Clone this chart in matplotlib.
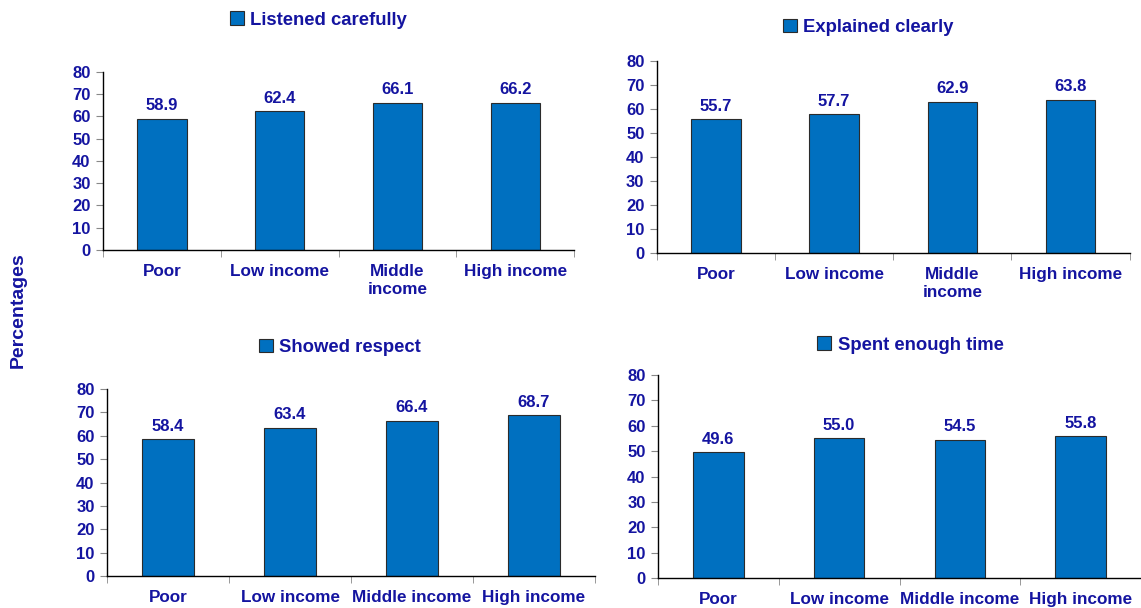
import matplotlib.pyplot as plt

# Categories and values for each panel
cats_wrap = ['Poor', 'Low income', 'Middle\nincome', 'High income']
cats_flat = ['Poor', 'Low income', 'Middle income', 'High income']

listened = [58.9, 62.4, 66.1, 66.2]
explained = [55.7, 57.7, 62.9, 63.8]
respect = [58.4, 63.4, 66.4, 68.7]
enough_time = [49.6, 55.0, 54.5, 55.8]

y_ticks = [0, 10, 20, 30, 40, 50, 60, 70, 80]

navy = '#1414A0'
blue = '#0070C0'

plt.rcParams['font.family'] = ['Liberation Sans', 'DejaVu Sans']
plt.rcParams['font.weight'] = 'bold'

fig = plt.figure(figsize=(11.41, 6.08), dpi=100)

# (values, labels, title, axes rect, legend centre)
panels = [
    (listened, cats_wrap, 'Listened carefully',
     [0.0903, 0.589, 0.413, 0.2926], (0.279, 0.967)),
    (explained, cats_wrap, 'Explained clearly',
     [0.5758, 0.584, 0.4142, 0.3157], (0.761, 0.955)),
    (respect, cats_flat, 'Showed respect',
     [0.0938, 0.0526, 0.4277, 0.3076], (0.298, 0.429)),
    (enough_time, cats_flat, 'Spent enough time',
     [0.5767, 0.0493, 0.4233, 0.3339], (0.798, 0.4326)),
]

for vals, labels, title, rect, leg_xy in panels:
    ax = fig.add_axes(rect)
    x = range(len(vals))
    bars = ax.bar(x, vals, width=0.42, color=blue, edgecolor='#2b2b2b',
                  linewidth=0.8, label=title)
    ax.bar_label(bars, labels=[f'{v:.1f}' for v in vals], padding=4,
                 color=navy, fontsize=12, fontweight='bold')

    ax.set_xlim(-0.5, len(vals) - 0.5)
    ax.set_ylim(0, 80)
    ax.set_yticks(y_ticks)
    ax.set_xticks(list(x))
    ax.set_xticklabels(labels)
    ax.set_xticks([i + 0.5 for i in range(-1, len(vals))], minor=True)

    ax.tick_params(axis='x', which='major', length=0, pad=10,
                   labelcolor=navy, labelsize=12.3)
    ax.tick_params(axis='x', which='minor', length=5, color='#888888',
                   direction='out')
    ax.tick_params(axis='y', length=5, color='#888888', labelcolor=navy,
                   labelsize=12, pad=4)
    for lab in ax.get_xticklabels() + ax.get_yticklabels():
        lab.set_fontweight('bold')
        lab.set_linespacing(1.25)

    ax.spines['top'].set_visible(False)
    ax.spines['right'].set_visible(False)
    ax.spines['left'].set_linewidth(1.0)
    ax.spines['bottom'].set_linewidth(1.0)

    leg = ax.legend(loc='center', bbox_to_anchor=leg_xy,
                    bbox_transform=fig.transFigure, frameon=False,
                    handlelength=0.75, handleheight=0.75, handletextpad=0.35,
                    prop={'size': 13.3, 'weight': 'bold'}, labelcolor=navy)

fig.text(0.016, 0.49, 'Percentages', rotation=90, ha='center', va='center',
         color=navy, fontsize=14, fontweight='bold')

fig.savefig('out.png', dpi=100)
